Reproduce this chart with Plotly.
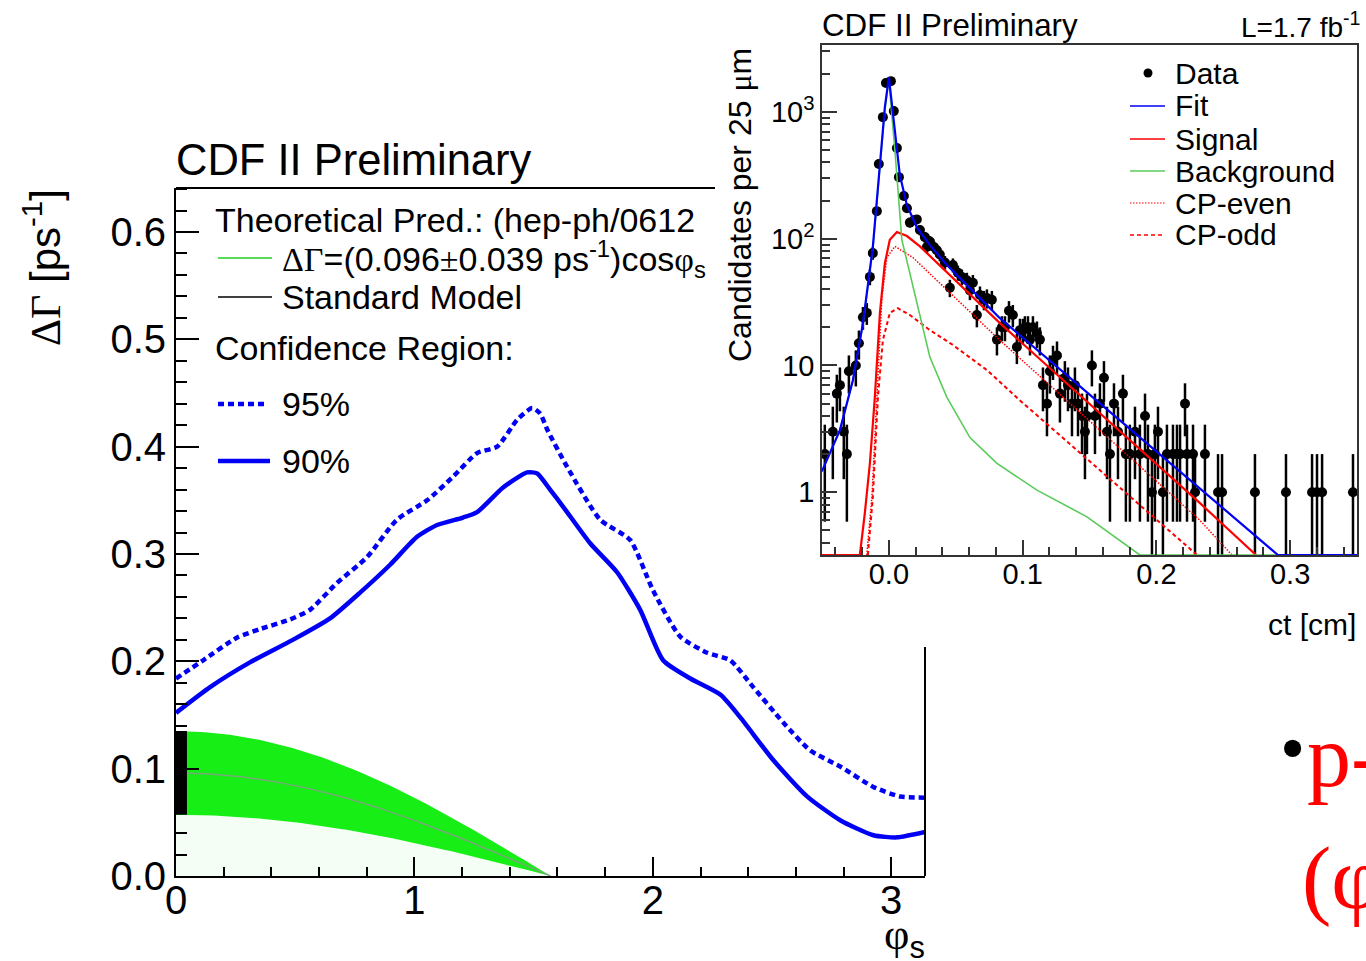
import numpy as np
import plotly.graph_objects as go

W, H = 1366, 961
SANS = "Liberation Sans"
SERIF = "Liberation Serif"


def px(x):
    return x / W


def py(y):
    return 1 - y / H


# ---------------- ΔΓ versus φs : confidence contours ----------------
PHI_90 = [0.0, 0.143, 0.31, 0.49, 0.646, 0.772, 0.898, 1.011, 1.095, 1.204, 1.263,
          1.372, 1.473, 1.515, 1.569, 1.624, 1.737, 1.850, 1.947, 2.043, 2.157,
          2.283, 2.366, 2.505, 2.648, 2.786, 2.925, 3.025, 3.142]
DG_90 = [0.152, 0.176, 0.199, 0.220, 0.240, 0.264, 0.290, 0.316, 0.327, 0.334, 0.339,
         0.362, 0.376, 0.375, 0.360, 0.344, 0.310, 0.283, 0.248, 0.201, 0.184,
         0.169, 0.148, 0.108, 0.074, 0.052, 0.038, 0.036, 0.041]

PHI_95 = [0.0, 0.114, 0.255, 0.352, 0.478, 0.562, 0.675, 0.801, 0.927, 1.053, 1.162,
          1.263, 1.347, 1.431, 1.494, 1.527, 1.557, 1.641, 1.779, 1.905, 2.001,
          2.115, 2.228, 2.324, 2.421, 2.547, 2.660, 2.786, 2.925, 3.038, 3.142]
DG_95 = [0.184, 0.201, 0.222, 0.230, 0.239, 0.248, 0.273, 0.297, 0.332, 0.350, 0.372,
         0.394, 0.400, 0.425, 0.436, 0.431, 0.416, 0.381, 0.332, 0.313, 0.266,
         0.223, 0.208, 0.201, 0.176, 0.143, 0.117, 0.102, 0.083, 0.074, 0.073]

# Theoretical prediction  ΔΓ = (0.096 ± 0.039 ps^-1) cos φs
DG_THEORY = 0.096
DG_THEORY_ERR = 0.039
SM_PHI = 0.004

# ---------------- ct distribution (inset) ----------------
CT_DATA = [-0.0479, -0.0419, -0.0389, -0.0366, -0.0337, -0.0314, -0.0299, -0.0247, -0.0224,
           -0.0194, -0.0165, -0.0142, -0.0120, -0.0090, -0.0075, -0.0045, -0.0022,
           0.0015, 0.0037, 0.0060, 0.0075, 0.0112, 0.0135, 0.0157, 0.0187, 0.0209, 0.0232,
           0.0269, 0.0284, 0.0307, 0.0337, 0.0359, 0.0381, 0.0419, 0.0456, 0.0479, 0.0516,
           0.0546, 0.0583, 0.0606, 0.0628, 0.0658, 0.0681, 0.0711, 0.0733, 0.0770, 0.0808,
           0.0845, 0.0868, 0.0898, 0.0927, 0.0957, 0.0980, 0.1002, 0.1017, 0.1040, 0.1055,
           0.1077, 0.1107, 0.1129, 0.1152, 0.1182, 0.1204, 0.1227, 0.1257, 0.1279, 0.1316,
           0.1339, 0.1369, 0.1391, 0.1414, 0.1444, 0.1466, 0.1481, 0.1518, 0.1541, 0.1578,
           0.1608, 0.1631, 0.1653, 0.1683, 0.1713, 0.1750, 0.1772, 0.1802, 0.1840, 0.1877,
           0.1915, 0.1937, 0.1967, 0.1989, 0.2012, 0.2049, 0.2079, 0.2124, 0.2154, 0.2177,
           0.2214, 0.2229, 0.2274, 0.2289, 0.2363, 0.2461, 0.2491, 0.2737, 0.2969, 0.3164,
           0.3201, 0.3239, 0.3470]
N_DATA = [2, 3, 6, 7, 3, 2, 9, 10, 15, 24, 26, 50, 77, 165, 388, 910, 1690,
          1750, 1015, 519, 306, 217, 174, 134, 140, 142, 117,
          103, 86, 95, 86, 81, 75, 65, 41, 62, 54,
          50, 47, 39, 45, 25, 36, 33, 34, 33, 16,
          20, 20, 27, 25, 14, 19, 19, 20, 20, 16,
          20, 18, 16, 7, 5, 9, 11, 12, 6, 8,
          7, 5, 7, 5, 4, 3, 4, 10, 4, 5,
          8, 3, 2, 5, 3, 6, 2, 2, 3, 2,
          4, 2, 1, 2, 3, 1, 2, 2, 2, 2,
          5, 2, 2, 1, 2, 1, 1, 1, 1, 1,
          1, 1, 1]

Y2_FLOOR = 0.32

CT_FIT = [-0.0501, -0.0366, -0.0269, -0.0194, -0.0120, -0.0067, -0.0030, 0.0, 0.0037,
          0.0082, 0.0135, 0.0209, 0.0307, 0.0434, 0.0681, 0.0830, 0.1578, 0.2326, 0.2909, 0.35]
N_FIT = [1.46, 3.09, 7.66, 21.6, 86, 418, 1090, 1880, 815,
         318, 184, 123, 89, 62, 34, 23.6, 5.03, 1.07, 0.32, 0.32]

CT_SIG = [-0.0501, -0.0217, -0.0180, -0.0142, -0.0105, -0.0067, -0.0030, 0.0007, 0.0060,
          0.0135, 0.0232, 0.0830, 0.1578, 0.2326, 0.2745]
N_SIG = [0.32, 0.32, 0.68, 1.69, 5.6, 26, 64, 98, 113,
         105, 87, 21.6, 4.2, 0.82, 0.32]

CT_BKG = [-0.0501, -0.0366, -0.0269, -0.0194, -0.0120, -0.0067, -0.0030, 0.0, 0.0045,
          0.0097, 0.0157, 0.0232, 0.0307, 0.0434, 0.0606, 0.0808, 0.1107, 0.1481, 0.1877, 0.35]
N_BKG = [1.46, 3.09, 7.66, 21, 83, 397, 1030, 1780, 500,
         98, 53, 24, 11.6, 5.6, 2.7, 1.69, 1.04, 0.64, 0.32, 0.32]

CT_EVEN = [-0.0165, -0.0127, -0.0090, -0.0052, -0.0015, 0.0045, 0.0180, 0.0830, 0.2326, 0.2565]
N_EVEN = [0.32, 0.91, 5.6, 34.5, 71, 87, 71, 15.8, 0.60, 0.32]

CT_ODD = [-0.0157, -0.0120, -0.0082, -0.0045, 0.0007, 0.0067, 0.0157, 0.0307, 0.0479,
          0.0733, 0.0980, 0.1578, 0.2304]
N_ODD = [0.32, 0.91, 5.6, 15.8, 26, 28.3, 25, 19, 14.5,
         9.2, 5.3, 1.49, 0.32]

BLUE = "#0000F5"
RED = "#FF0000"
BAND_GREEN = "#16EE16"
CURVE_GREEN = "#5ACB5A"

fig = go.Figure()

# ---- left panel ----
phi_band = np.linspace(0, np.pi / 2, 91)
band_lo = (DG_THEORY - DG_THEORY_ERR) * np.cos(phi_band)
band_hi = (DG_THEORY + DG_THEORY_ERR) * np.cos(phi_band)
band_mid = DG_THEORY * np.cos(phi_band)

fig.add_trace(go.Scatter(x=phi_band, y=np.zeros_like(phi_band), mode="lines",
                         line=dict(width=0), hoverinfo="skip"))
fig.add_trace(go.Scatter(x=phi_band, y=band_lo, mode="lines", line=dict(width=0),
                         fill="tonexty", fillcolor="rgba(60,230,60,0.05)", hoverinfo="skip"))
fig.add_trace(go.Scatter(x=phi_band, y=band_hi, mode="lines", line=dict(width=0),
                         fill="tonexty", fillcolor=BAND_GREEN))
fig.add_trace(go.Scatter(x=phi_band, y=band_mid, mode="lines",
                         line=dict(color="rgba(130,160,130,0.9)", width=1.5)))
fig.add_trace(go.Scatter(x=[SM_PHI, SM_PHI],
                         y=[DG_THEORY - DG_THEORY_ERR, DG_THEORY + DG_THEORY_ERR],
                         mode="lines", line=dict(color="black", width=20)))
fig.add_trace(go.Scatter(x=PHI_95, y=DG_95, mode="lines", line_shape="spline",
                         line=dict(color=BLUE, width=4.5, dash="6px,4px", smoothing=0.6)))
fig.add_trace(go.Scatter(x=PHI_90, y=DG_90, mode="lines", line_shape="spline",
                         line=dict(color=BLUE, width=4.5, smoothing=0.6)))

# ---- inset panel ----
n = np.array(N_DATA, dtype=float)
err = np.sqrt(n)
low = np.maximum(n - err, 0.05)
fig.add_trace(go.Scatter(x=CT_DATA, y=N_DATA, mode="markers", xaxis="x2", yaxis="y2",
                         marker=dict(size=10, color="black"),
                         error_y=dict(type="data", array=err, arrayminus=n - low,
                                      color="black", thickness=2.5, width=0)))
fig.add_trace(go.Scatter(x=CT_ODD, y=N_ODD, mode="lines", xaxis="x2", yaxis="y2",
                         line=dict(color=RED, width=2, dash="4px,3px")))
fig.add_trace(go.Scatter(x=CT_EVEN, y=N_EVEN, mode="lines", xaxis="x2", yaxis="y2",
                         line=dict(color=RED, width=1.5, dash="1.5px,1.5px")))
fig.add_trace(go.Scatter(x=CT_SIG, y=N_SIG, mode="lines", xaxis="x2", yaxis="y2",
                         line=dict(color=RED, width=2.2)))
fig.add_trace(go.Scatter(x=CT_BKG, y=N_BKG, mode="lines", xaxis="x2", yaxis="y2",
                         line=dict(color=CURVE_GREEN, width=1.6)))
fig.add_trace(go.Scatter(x=CT_FIT, y=N_FIT, mode="lines", xaxis="x2", yaxis="y2",
                         line=dict(color=BLUE, width=2.2)))

minor_log = [0.4, 0.5, 0.6, 0.7, 0.8, 0.9] + [k * 10 ** e for e in range(0, 4)
                                              for k in range(2, 10) if k * 10 ** e < 3400]

fig.update_layout(
    template="none",
    width=W, height=H, margin=dict(l=0, r=0, t=0, b=0, pad=0), autosize=False,
    paper_bgcolor="white", plot_bgcolor="white", showlegend=False,
    font=dict(family=SANS, color="black"),
    xaxis=dict(domain=[px(176), px(925)], range=[0, np.pi], anchor="y", automargin=False,
               showline=True, linecolor="black", linewidth=2, mirror=False,
               ticks="inside", ticklen=19, tickwidth=2, tickcolor="black",
               tickvals=[0, 1, 2, 3], tickfont=dict(size=40, family=SANS),
               ticklabelstandoff=-12,
               minor=dict(ticks="inside", ticklen=9, tickwidth=2, tickcolor="black",
                          dtick=0.2, tick0=0, showgrid=False),
               showgrid=False, zeroline=False),
    yaxis=dict(domain=[py(876), py(188)], range=[0, 0.641], anchor="x", automargin=False,
               showline=True, linecolor="black", linewidth=2, mirror=False,
               ticks="inside", ticklen=23, tickwidth=2, tickcolor="black",
               tickvals=[0, 0.1, 0.2, 0.3, 0.4, 0.5, 0.6], tickformat=".1f",
               tickfont=dict(size=40, family=SANS),
               minor=dict(ticks="inside", ticklen=11, tickwidth=2, tickcolor="black",
                          dtick=0.02, tick0=0, showgrid=False),
               showgrid=False, zeroline=False),
    xaxis2=dict(domain=[px(822), px(1357)], range=[-0.05, 0.35], anchor="y2", automargin=False,
                showline=True, linecolor="#333333", linewidth=1.5, mirror=True,
                ticks="inside", ticklen=15, tickwidth=1.5, tickcolor="#333333",
                tickvals=[0, 0.1, 0.2, 0.3], ticktext=["0.0", "0.1", "0.2", "0.3"],
                tickfont=dict(size=29, family=SANS),
                ticklabelstandoff=-8,
                minor=dict(ticks="inside", ticklen=8, tickwidth=1.5, tickcolor="#333333",
                           dtick=0.02, tick0=0, showgrid=False),
                showgrid=False, zeroline=False),
    yaxis2=dict(domain=[py(555), py(45)], type="log", range=[np.log10(Y2_FLOOR), 3.528],
                anchor="x2", automargin=False,
                showline=True, linecolor="#333333", linewidth=1.5, mirror=True,
                ticks="inside", ticklen=15, tickwidth=1.5, tickcolor="#333333",
                tickvals=[1, 10, 100, 1000],
                ticktext=["1", "10", "10<sup>2</sup>", "10<sup>3</sup>"],
                tickfont=dict(size=29, family=SANS),
                minor=dict(ticks="inside", ticklen=8, tickwidth=1.5, tickcolor="#333333",
                           tickvals=minor_log, showgrid=False),
                showgrid=False, zeroline=False),
)

shapes = [
    # remaining parts of the left frame
    dict(type="line", xref="paper", yref="paper", x0=px(176), x1=px(715), y0=py(188), y1=py(188),
         line=dict(color="black", width=2)),
    dict(type="line", xref="paper", yref="paper", x0=px(925), x1=px(925), y0=py(647), y1=py(876),
         line=dict(color="black", width=2)),
    # left legend samples
    dict(type="line", xref="paper", yref="paper", x0=px(218), x1=px(272), y0=py(258), y1=py(258),
         line=dict(color="#55DD55", width=2)),
    dict(type="line", xref="paper", yref="paper", x0=px(218), x1=px(272), y0=py(297), y1=py(297),
         line=dict(color="black", width=1.5)),
    dict(type="line", xref="paper", yref="paper", x0=px(218), x1=px(268), y0=py(404), y1=py(404),
         line=dict(color=BLUE, width=4.5, dash="6px,4px")),
    dict(type="line", xref="paper", yref="paper", x0=px(218), x1=px(270), y0=py(461), y1=py(461),
         line=dict(color=BLUE, width=4.5)),
    # inset legend samples
    dict(type="circle", xref="paper", yref="paper", x0=px(1143.5), x1=px(1152.5),
         y0=py(77.5), y1=py(68.5), fillcolor="black", line=dict(width=0)),
    dict(type="line", xref="paper", yref="paper", x0=px(1130), x1=px(1165), y0=py(106), y1=py(106),
         line=dict(color=BLUE, width=1.5)),
    dict(type="line", xref="paper", yref="paper", x0=px(1130), x1=px(1165), y0=py(139), y1=py(139),
         line=dict(color=RED, width=1.5)),
    dict(type="line", xref="paper", yref="paper", x0=px(1130), x1=px(1165), y0=py(171), y1=py(171),
         line=dict(color=CURVE_GREEN, width=1.5)),
    dict(type="line", xref="paper", yref="paper", x0=px(1130), x1=px(1165), y0=py(203), y1=py(203),
         line=dict(color=RED, width=1.2, dash="1.5px,1.5px")),
    dict(type="line", xref="paper", yref="paper", x0=px(1130), x1=px(1165), y0=py(235), y1=py(235),
         line=dict(color=RED, width=1.5, dash="4px,3px")),
]


def label(text, x, y, size, xanchor="left", yanchor="middle", color="black", family=SANS, angle=0):
    return dict(text=text, x=px(x), y=py(y), xref="paper", yref="paper", showarrow=False,
                xanchor=xanchor, yanchor=yanchor, textangle=angle,
                font=dict(size=size, color=color, family=family))


def serif(s):
    return f'<span style="font-family:{SERIF}">{s}</span>'


annotations = [
    label("CDF II Preliminary", 174, 160, 43.5),
    label(serif("ΔΓ") + " [ps<sup>-1</sup>]", 42, 268, 42, xanchor="center", angle=-90),
    label(serif("φ") + "<sub>s</sub>", 927, 937, 44, xanchor="right"),
    label("Theoretical Pred.: (hep-ph/0612", 213, 220, 34),
    label(serif("ΔΓ") + "=(0.096" + serif("±") + "0.039 ps<sup>-1</sup>)cos" + serif("φ") + "<sub>s</sub>",
          280, 259, 34),
    label("Standard Model", 280, 297, 34),
    label("Confidence Region:", 213, 348, 34),
    label("95%", 280, 404, 34),
    label("90%", 280, 461, 34),
    # inset texts
    label("CDF II Preliminary", 820, 25, 31.3),
    label("L=1.7 fb<sup>-1</sup>", 1362, 25, 28, xanchor="right"),
    label("Candidates per 25 " + serif("μ") + "m", 740, 205, 32, xanchor="center", angle=-90),
    label("ct [cm]", 1358, 624, 30, xanchor="right"),
    label("Data", 1173, 73, 30),
    label("Fit", 1173, 106, 30),
    label("Signal", 1173, 139, 30),
    label("Background", 1173, 171, 30),
    label("CP-even", 1173, 203, 30),
    label("CP-odd", 1173, 235, 30),
    # slide text at the lower right
    label("•", 1292, 748, 72, xanchor="center", family=SERIF),
    label("p-", 1305, 756, 88, color=RED, family=SERIF),
    label("(φ", 1300, 878, 88, color=RED, family=SERIF),
]

fig.update_layout(shapes=shapes, annotations=annotations)
fig.write_html("out.html")
